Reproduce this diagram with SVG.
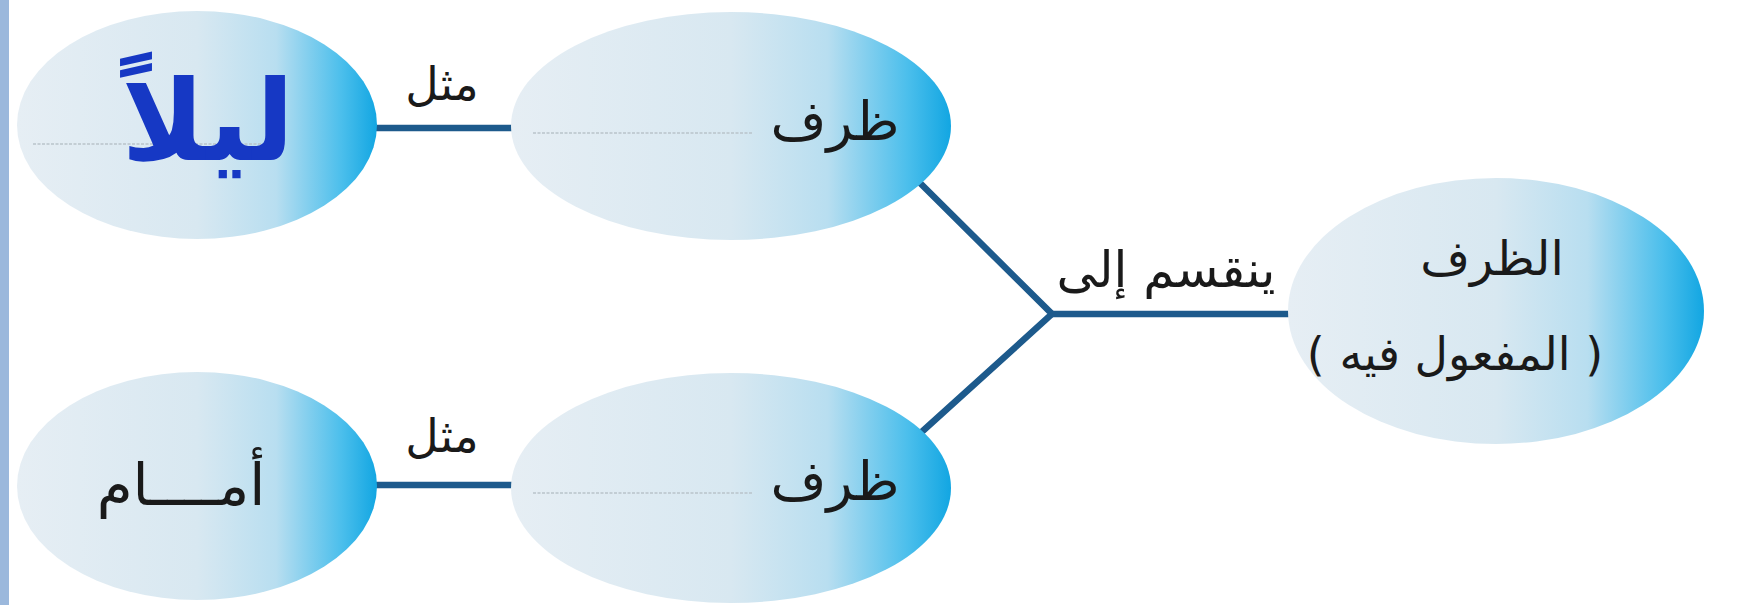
<svg xmlns="http://www.w3.org/2000/svg" width="1741" height="605" viewBox="0 0 1741 605">
<defs>
<linearGradient id="bub" x1="0" y1="0" x2="1" y2="0">
<stop offset="0" stop-color="#e6eef4"/>
<stop offset="0.5" stop-color="#d8e8f1"/>
<stop offset="0.72" stop-color="#b8def0"/>
<stop offset="0.9" stop-color="#4cbfec"/>
<stop offset="1" stop-color="#12a6e2"/>
</linearGradient>
<style>
.node{fill:url(#bub);}
.conn{stroke:#1d5a8c;stroke-width:6.5;fill:none;stroke-linecap:butt;}
.guide{stroke:#b9c3ca;stroke-width:1.5;stroke-dasharray:3 1.5;fill:none;}
.t{font-family:"DejaVu Sans","Liberation Serif",serif;fill:#1a1a1a;text-anchor:middle;direction:rtl;}
</style>
</defs>
<rect x="0" y="0" width="1741" height="605" fill="#ffffff"/>
<rect x="0" y="0" width="9" height="605" fill="#9bb8dc"/>
<g id="connectors">
<line class="conn" x1="370" y1="128" x2="515" y2="128"/>
<line class="conn" x1="370" y1="485" x2="515" y2="485"/>
<polyline class="conn" points="915,178 1052,314 915,438"/>
<line class="conn" x1="1052" y1="314" x2="1295" y2="314"/>
</g>
<g id="label-mithl-1"><text class="t" x="442" y="100" font-size="46">مثل</text></g>
<g id="label-mithl-2"><text class="t" x="442" y="452" font-size="46">مثل</text></g>
<g id="label-yanqasim"><text class="t" x="1166" y="287" font-size="50">ينقسم إلى</text></g>
<g id="node-layla">
<ellipse class="node" cx="197" cy="125" rx="180" ry="114"/>
<line class="guide" x1="33" y1="144" x2="285" y2="144"/>
<text class="t" x="208" y="160" font-size="112" font-weight="bold" style="fill:#1638c4">ليلاً</text>
</g>
<g id="node-zarf-1">
<ellipse class="node" cx="731" cy="126" rx="220" ry="114"/>
<line class="guide" x1="533" y1="133" x2="753" y2="133"/>
<text class="t" x="835" y="140" font-size="54">ظرف</text>
</g>
<g id="node-amam">
<ellipse class="node" cx="197" cy="486" rx="180" ry="114"/>
<text class="t" x="181" y="505" font-size="58">أمــــام</text>
</g>
<g id="node-zarf-2">
<ellipse class="node" cx="731" cy="488" rx="220" ry="115"/>
<line class="guide" x1="533" y1="493" x2="753" y2="493"/>
<text class="t" x="835" y="500" font-size="54">ظرف</text>
</g>
<g id="node-root">
<ellipse class="node" cx="1496" cy="311" rx="208" ry="133"/>
<text class="t" x="1492" y="275" font-size="48">الظرف</text>
<text class="t" x="1455" y="370" font-size="46">( المفعول فيه )</text>
</g>
</svg>
